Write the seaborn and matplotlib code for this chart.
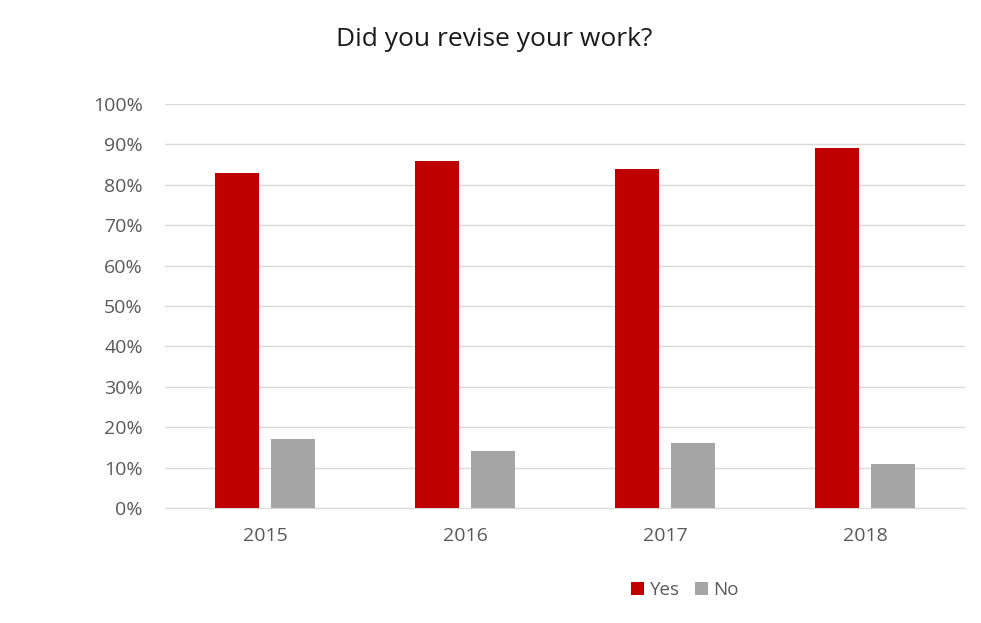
import pandas as pd
import seaborn as sns
import matplotlib.pyplot as plt
from matplotlib.ticker import PercentFormatter

years = ['2015', '2016', '2017', '2018']
yes_vals = [83, 86, 84, 89]
no_vals = [17, 14, 16, 11]

df = pd.DataFrame({'year': years * 2,
                   'answer': ['Yes'] * 4 + ['No'] * 4,
                   'pct': yes_vals + no_vals})

sns.set_style('white')
plt.rcParams['font.family'] = ['Open Sans', 'DejaVu Sans']

fig = plt.figure(figsize=(9.81, 6.23), dpi=100)
ax = fig.add_axes([165 / 981, 1 - 508 / 623, 800 / 981, 404 / 623])

sns.barplot(data=df, x='year', y='pct', hue='answer', ax=ax,
            palette={'Yes': '#c00000', 'No': '#a5a5a5'},
            width=0.56, gap=0.2, saturation=1, linewidth=0, zorder=3)

ax.set_ylim(0, 100)
ax.set_yticks(range(0, 101, 10))
ax.yaxis.set_major_formatter(PercentFormatter(decimals=0))
ax.grid(axis='y', color='#d9d9d9', linewidth=1, zorder=0)
for s in ['top', 'right', 'left']:
    ax.spines[s].set_visible(False)
ax.spines['bottom'].set_color('#d9d9d9')
ax.tick_params(axis='both', length=0, labelsize=14, labelcolor='#595959')
ax.tick_params(axis='y', pad=16)
ax.tick_params(axis='x', pad=14)
ax.set_xlabel('')
ax.set_ylabel('')

ax.legend(loc='center', bbox_to_anchor=(685 / 981, 1 - 590 / 623),
          bbox_transform=fig.transFigure, ncol=2, frameon=False,
          fontsize=13.5, labelcolor='#595959', handlelength=0.7,
          handleheight=0.7, columnspacing=0.8, handletextpad=0.3)

fig.text(494 / 981, 1 - 40 / 623, 'Did you revise your work?', ha='center',
         va='center', fontsize=19, color='#1a1a1a')

fig.savefig('out.png', dpi=100)
